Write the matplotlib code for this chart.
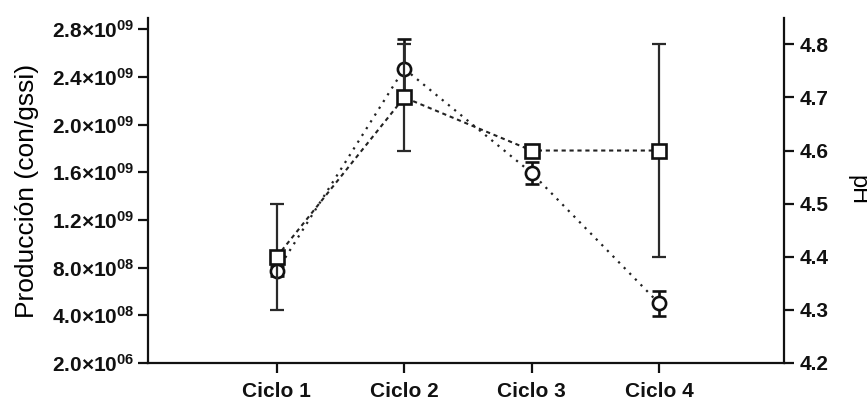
import matplotlib
matplotlib.use("Agg")
import matplotlib.pyplot as plt

plt.rcParams['font.family'] = ['Liberation Sans', 'DejaVu Sans']
plt.rcParams['mathtext.fontset'] = 'custom'
plt.rcParams['mathtext.rm'] = 'Liberation Sans:bold'
plt.rcParams['mathtext.bf'] = 'Liberation Sans:bold'
plt.rcParams['mathtext.it'] = 'Liberation Sans:bold'

categories = ["Ciclo 1", "Ciclo 2", "Ciclo 3", "Ciclo 4"]
produccion = [0.77e9, 2.47e9, 1.595e9, 0.50e9]
produccion_err = [0.04e9, 0.245e9, 0.09e9, 0.105e9]
ph = [4.4, 4.7, 4.6, 4.6]
ph_err = [0.1, 0.1, 0.01, 0.2]

left_ticks = [2e6, 4e8, 8e8, 1.2e9, 1.6e9, 2.0e9, 2.4e9, 2.8e9]
left_labels = [r"2.0×10$^{06}$", r"4.0×10$^{08}$", r"8.0×10$^{08}$", r"1.2×10$^{09}$",
               r"1.6×10$^{09}$", r"2.0×10$^{09}$", r"2.4×10$^{09}$", r"2.8×10$^{09}$"]
right_ticks = [4.2, 4.3, 4.4, 4.5, 4.6, 4.7, 4.8]

fig = plt.figure(figsize=(8.67, 4.0), dpi=100)
ax = fig.add_axes([148/867, 1-363/400, (784-148)/867, (363-18)/400])
ax2 = ax.twinx()

x = list(range(len(categories)))

# Production (circles) on left axis
ax.plot(x, produccion, color='#222222', lw=1.6, linestyle=(0, (1, 2.6)),
        dash_capstyle='butt', zorder=2)
ax.errorbar(x, produccion, yerr=produccion_err, fmt='none', ecolor='#111111',
            elinewidth=1.9, capsize=5, capthick=1.9, zorder=3)
ax.plot(x, produccion, linestyle='none', marker='o', ms=9.5, mfc='white',
        mec='#111111', mew=1.9, zorder=4)

# pH (squares) on right axis
ax2.plot(x, ph, color='#222222', lw=1.5, linestyle=(0, (2.0, 1.8)), zorder=2)
ax2.errorbar(x, ph, yerr=ph_err, fmt='none', ecolor='#2a2a2a',
             elinewidth=1.6, capsize=5, capthick=1.6, zorder=3)
ax2.plot(x, ph, linestyle='none', marker='s', ms=9.5, mfc='white',
         mec='#111111', mew=1.9, zorder=4)

ax.set_xlim(-1.01, 3.98)
ax.set_ylim(0, 2.895e9)
ax2.set_ylim(4.2, 4.8495)

ax.set_xticks(x)
ax.set_xticklabels(categories, fontsize=15, fontweight='bold')
ax.set_yticks(left_ticks)
ax.set_yticklabels(left_labels, fontsize=15, fontweight='bold')
ax2.set_yticks(right_ticks)
ax2.set_yticklabels([f"{v:.1f}" for v in right_ticks], fontsize=15, fontweight='bold')

for a in (ax, ax2):
    a.spines['top'].set_visible(False)
    for s in a.spines.values():
        s.set_linewidth(1.6)
        s.set_color('#111111')
    a.tick_params(width=1.6, length=7.5, color='#111111', labelcolor='#111111')
ax.spines['right'].set_visible(False)
ax2.spines['left'].set_visible(False)
ax2.spines['bottom'].set_visible(False)
ax.tick_params(axis='y', pad=2)
ax.tick_params(axis='x', pad=6)
ax2.tick_params(axis='y', pad=4)

ax.set_ylabel("Producción (con/gssi)", fontsize=19)
ax.yaxis.set_label_coords((39-148)/636, 0.5)
ax2.set_ylabel("pH", fontsize=17, rotation=-90, va='center', ha='center')
ax2.yaxis.set_label_coords((857-148)/636, 0.5)

fig.savefig("out.png", dpi=100)
